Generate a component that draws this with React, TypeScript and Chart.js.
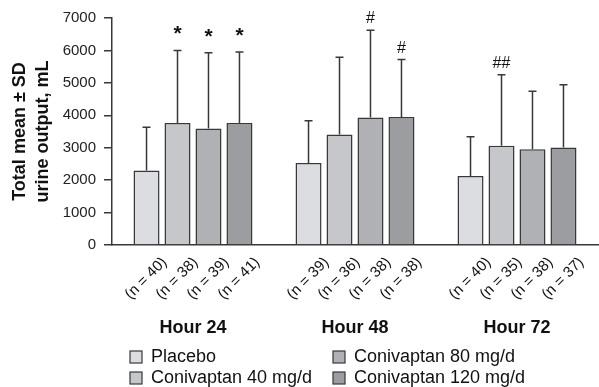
import React, { useEffect, useRef } from 'react';
import { Chart, registerables } from 'chart.js';

Chart.register(...registerables);

const FONT = '"Liberation Sans", Arial, sans-serif';

const categories = ['Hour 24', 'Hour 48', 'Hour 72'];
const seriesNames = ['Placebo', 'Conivaptan 40 mg/d', 'Conivaptan 80 mg/d', 'Conivaptan 120 mg/d'];

const placeboMean = [2300, 2530, 2130];
const placeboSD = [1330, 1300, 1210];
const c40Mean = [3760, 3410, 3060];
const c40SD = [2240, 2380, 2190];
const c80Mean = [3590, 3930, 2950];
const c80SD = [2340, 2690, 1790];
const c120Mean = [3760, 3950, 3010];
const c120SD = [2190, 1770, 1930];

const placeboN = [40, 39, 40];
const c40N = [38, 36, 35];
const c80N = [39, 38, 38];
const c120N = [41, 38, 37];

const placeboMarks = ['', '', ''];
const c40Marks = ['*', '', '##'];
const c80Marks = ['*', '#', ''];
const c120Marks = ['*', '#', ''];

const yMin = 0;
const yMax = 7000;
const yStep = 1000;
const yTitle = ['Total mean \u00b1 SD', 'urine output, mL'];

const colors = ['#dcdde0', '#c6c7ca', '#b0b1b5', '#9c9da1'];
const edge = '#383838';

const overlay = {
  id: 'overlay',
  afterDatasetsDraw(chart: any) {
    const ctx = chart.ctx;
    const ys = chart.scales.y;
    const xs = chart.scales.x;
    const area = chart.chartArea;
    chart.data.datasets.forEach((ds: any, di: number) => {
      const meta = chart.getDatasetMeta(di);
      meta.data.forEach((bar: any, i: number) => {
        const top = ys.getPixelForValue(ds.data[i] + ds.sd[i]);
        ctx.save();
        ctx.strokeStyle = edge;
        ctx.lineWidth = 1.5;
        ctx.beginPath();
        ctx.moveTo(bar.x, bar.y);
        ctx.lineTo(bar.x, top);
        ctx.moveTo(bar.x - 4, top);
        ctx.lineTo(bar.x + 4, top);
        ctx.stroke();
        const mark = ds.marks[i];
        if (mark) {
          ctx.fillStyle = '#111';
          ctx.textAlign = 'center';
          ctx.textBaseline = 'alphabetic';
          if (mark === '*') {
            ctx.font = 'bold 21px ' + FONT;
            ctx.fillText(mark, bar.x, top - 10);
          } else {
            ctx.font = '16px ' + FONT;
            ctx.fillText(mark, bar.x, top - 7);
          }
        }
        ctx.translate(bar.x + 18, area.bottom + 15);
        ctx.rotate(-Math.PI / 4);
        ctx.font = '15px ' + FONT;
        ctx.fillStyle = '#111';
        ctx.textAlign = 'right';
        ctx.textBaseline = 'middle';
        ctx.fillText('(n = ' + ds.n[i] + ')', 0, 0);
        ctx.restore();
      });
    });

    ctx.save();
    ctx.fillStyle = '#111';
    ctx.font = 'bold 18px ' + FONT;
    ctx.textAlign = 'center';
    ctx.textBaseline = 'middle';
    categories.forEach((c, i) => {
      ctx.fillText(c, xs.getPixelForValue(i), area.bottom + 83);
    });

    // y title
    ctx.save();
    ctx.translate(25, (area.top + area.bottom) / 2);
    ctx.rotate(-Math.PI / 2);
    ctx.textBaseline = 'alphabetic';
    ctx.fillText(yTitle[0], 0, 0);
    ctx.fillText(yTitle[1], 0, 23);
    ctx.restore();

    // legend
    const cols = [130, 333];
    const rows = [357, 378];
    const order = [[0, 0, 0], [1, 0, 1], [2, 1, 0], [3, 1, 1]];
    ctx.font = '18px ' + FONT;
    ctx.textAlign = 'left';
    ctx.textBaseline = 'middle';
    order.forEach(([si, c, r]) => {
      const bx = cols[c];
      const by = rows[r];
      ctx.fillStyle = colors[si];
      ctx.fillRect(bx, by - 6, 12, 12);
      ctx.strokeStyle = edge;
      ctx.lineWidth = 1.2;
      ctx.strokeRect(bx, by - 6, 12, 12);
      ctx.fillStyle = '#111';
      ctx.fillText(seriesNames[si], bx + 21, by);
    });
    ctx.restore();
  },
};

export default function App() {
  const ref = useRef<HTMLCanvasElement>(null);
  useEffect(() => {
    if (!ref.current) return;
    const means = [placeboMean, c40Mean, c80Mean, c120Mean];
    const sds = [placeboSD, c40SD, c80SD, c120SD];
    const ns = [placeboN, c40N, c80N, c120N];
    const marks = [placeboMarks, c40Marks, c80Marks, c120Marks];
    const chart = new Chart(ref.current, {
      type: 'bar',
      data: {
        labels: categories,
        datasets: seriesNames.map((name, i) => ({
          label: name,
          data: means[i],
          sd: sds[i],
          n: ns[i],
          marks: marks[i],
          backgroundColor: colors[i],
          borderColor: edge,
          borderWidth: 1.5,
          categoryPercentage: 0.765,
          barPercentage: 0.84,
        })) as any,
      },
      options: {
        animation: false,
        responsive: true,
        maintainAspectRatio: false,
        layout: { padding: { top: 18, right: 1, left: 0, bottom: 0 } },
        plugins: { legend: { display: false }, tooltip: { enabled: false } },
        scales: {
          x: {
            grid: { display: false },
            ticks: { display: false },
            border: { display: true, color: edge, width: 1.5 },
            afterFit: (s: any) => { s.height = 142; },
          },
          y: {
            min: yMin,
            max: yMax,
            ticks: {
              stepSize: yStep,
              padding: 8,
              color: '#222',
              font: { family: FONT, size: 15 },
              callback: (v: any) => String(v),
            },
            grid: { drawOnChartArea: false, drawTicks: true, tickLength: 8, color: edge, lineWidth: 1.5 },
            border: { display: true, color: edge, width: 1.5 },
            afterFit: (s: any) => { s.width = 112; },
          },
        },
      },
      plugins: [overlay],
    });
    return () => chart.destroy();
  }, []);
  return (
    <div style={{ position: 'absolute', left: 0, top: 0, width: 599, height: 387, background: '#fff' }}>
      <canvas ref={ref} />
    </div>
  );
}
